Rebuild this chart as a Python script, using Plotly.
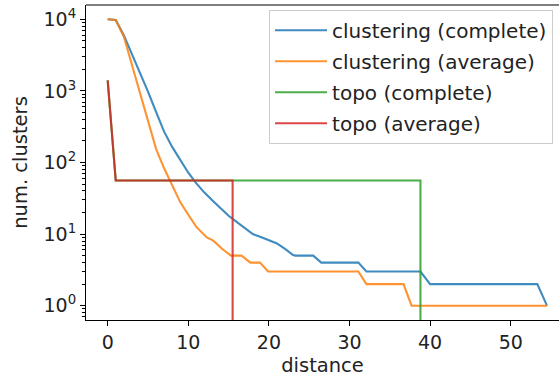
import plotly.graph_objects as go

# ---- data ----
clu_complete_x = [0, 1, 2, 3, 4, 5, 6, 7, 8, 9, 10, 11, 12, 13, 14, 15, 16, 17, 18, 19, 20, 21, 22, 23, 23.3,
                  25.5, 26.5, 31.1, 32.1, 38.8, 40.0, 53.3, 54.5]
clu_complete_y = [10000, 9800, 6000, 3300, 1800, 980, 510, 270, 165, 107, 72, 51, 38, 29.5, 23, 18, 14.8, 12,
                  10, 9.1, 8.3, 7.4, 6.2, 5.1, 5, 5, 4, 4, 3, 3, 2, 2, 1]

clu_average_x = [0, 1, 2, 3, 4, 5, 6, 7, 8, 9, 10, 11, 12.3, 13.1, 14.3, 15.3, 16.6, 17.7, 18.9, 19.9,
                 31.1, 32.1, 36.7, 37.7, 54.5]
clu_average_y = [10000, 9800, 5750, 2300, 890, 355, 155, 83, 48, 28, 18.6, 12.6, 9, 8.1, 6.1, 5, 5, 4, 4, 3,
                 3, 2, 2, 1, 1]

topo_complete_x = [0, 1, 38.8, 38.8]
topo_complete_y = [1400, 56, 56, 0]

topo_average_x = [0, 1, 15.5, 15.5]
topo_average_y = [1400, 56, 56, 0]

names = ["clustering (complete)", "clustering (average)", "topo (complete)", "topo (average)"]
colors = ["#1f77b4", "#ff7f0e", "#2ca02c", "#d62728"]

ytick_vals = [1, 10, 100, 1000, 10000]
ytick_text = ["10<sup>0</sup>", "10<sup>1</sup>", "10<sup>2</sup>", "10<sup>3</sup>", "10<sup>4</sup>"]
xtick_vals = [0, 10, 20, 30, 40, 50]

FLOOR = 1e-3  # zero counts drawn below the log axis


def clip0(vals):
    return [v if v > 0 else FLOOR for v in vals]


series = [
    (clu_complete_x, clu_complete_y),
    (clu_average_x, clu_average_y),
    (topo_complete_x, topo_complete_y),
    (topo_average_x, topo_average_y),
]

fig = go.Figure()
for i, ((xs, ys), name, col) in enumerate(zip(series, names, colors)):
    fig.add_trace(go.Scatter(
        x=xs, y=clip0(ys), mode="lines", name=name,
        line=dict(color=col, width=2.1), opacity=0.85,
        legendgroup=f"g{i}",
    ))

minor_vals = [m * 10 ** d for d in range(-1, 5) for m in range(2, 10)]

font_color = "#222222"
fig.update_layout(
    width=559, height=377,
    margin=dict(l=86, r=0, t=5, b=57),
    paper_bgcolor="white", plot_bgcolor="white",
    font=dict(family="DejaVu Sans", size=19, color=font_color),
    showlegend=True,
    legend=dict(
        x=0.387, y=0.985, xanchor="left", yanchor="top",
        bgcolor="rgba(255,255,255,0.8)", bordercolor="#cccccc", borderwidth=1,
        font=dict(size=20, color=font_color),
        tracegroupgap=2, traceorder="grouped", itemwidth=52,
    ),
    xaxis=dict(
        range=[-2.69, 55.99], tickvals=xtick_vals,
        showgrid=False, zeroline=False,
        showline=True, linecolor="#000000", linewidth=1.1,
        ticks="outside", ticklen=5, tickwidth=1.1, tickcolor="#000000",
        tickfont=dict(size=19),
        title=dict(text="distance", standoff=11, font=dict(size=19.5)),
    ),
    yaxis=dict(
        type="log", range=[-0.2, 4.2],
        tickvals=ytick_vals, ticktext=ytick_text,
        showgrid=False, zeroline=False,
        showline=True, linecolor="#000000", linewidth=1.1,
        ticks="outside", ticklen=5, tickwidth=1.1, tickcolor="#000000",
        tickfont=dict(size=19),
        minor=dict(tickvals=minor_vals, ticks="outside", ticklen=2.8, tickwidth=0.8,
                   tickcolor="#000000", showgrid=False),
        title=dict(text="num. clusters", standoff=10, font=dict(size=19.5)),
    ),
    shapes=[dict(type="line", xref="paper", yref="paper", x0=0, x1=1, y0=1, y1=1,
                 line=dict(color="#000000", width=1.1))],
)

fig.write_html("out.html")
